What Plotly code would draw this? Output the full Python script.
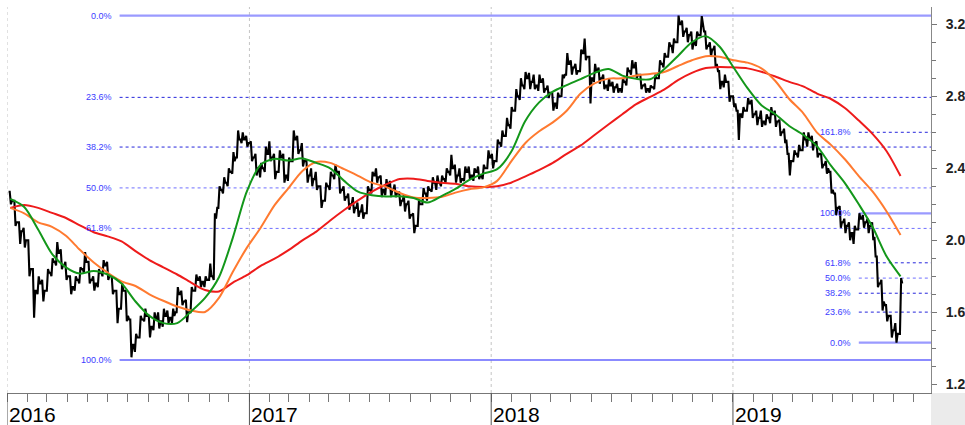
import plotly.graph_objects as go
import pandas as pd

# ---------------- data ----------------
first_week = "2016-01-06"   # weekly ranges (Wednesday of each week)

high = [
2.27,2.22,2.10,2.07,2.00,1.84,1.80,1.78,1.84,1.90,
1.99,1.95,1.88,1.80,1.80,1.85,1.935,1.88,1.80,1.84,
1.89,1.88,1.80,1.72,1.76,1.72,1.56,1.48,1.58,1.62,
1.58,1.60,1.60,1.62,1.61,1.62,1.74,1.72,1.67,1.74,
1.81,1.80,1.80,1.87,2.15,2.30,2.35,2.40,2.49,2.61,
2.60,2.58,2.55,2.48,2.43,2.52,2.55,2.48,2.50,2.48,
2.46,2.61,2.58,2.54,2.44,2.40,2.38,2.30,2.32,2.38,
2.42,2.38,2.30,2.26,2.24,2.21,2.20,2.30,2.38,2.40,
2.36,2.34,2.33,2.31,2.27,2.25,2.22,2.15,2.22,2.29,
2.30,2.35,2.36,2.36,2.40,2.475,2.42,2.40,2.41,2.41,
2.40,2.41,2.42,2.50,2.48,2.56,2.61,2.68,2.74,2.84,
2.90,2.935,2.93,2.92,2.92,2.90,2.86,2.82,2.82,2.92,
3.04,3.00,2.98,3.06,3.12,3.02,2.98,2.96,2.92,2.90,
2.88,2.87,2.90,2.96,3.00,2.99,2.92,2.87,2.86,2.92,
3.00,3.04,3.10,3.12,3.248,3.22,3.18,3.16,3.16,3.245,
3.16,3.10,3.08,2.94,2.92,2.88,2.80,2.72,2.74,2.79,
2.78,2.72,2.72,2.70,2.74,2.72,2.67,2.62,2.48,2.50,
2.53,2.60,2.60,2.58,2.55,2.48,2.44,2.38,2.26,2.19,
2.12,2.10,2.08,2.15,2.14,2.12,2.10,1.91,1.78,1.64,
1.58,1.54,1.79]

low = [
2.20,2.08,1.98,1.96,1.80,1.57,1.70,1.66,1.72,1.80,
1.86,1.84,1.78,1.70,1.72,1.76,1.82,1.76,1.72,1.74,
1.80,1.78,1.70,1.54,1.62,1.55,1.35,1.38,1.46,1.55,
1.46,1.50,1.51,1.52,1.54,1.54,1.60,1.64,1.545,1.60,
1.72,1.74,1.74,1.78,1.78,2.18,2.26,2.30,2.37,2.46,
2.54,2.52,2.44,2.36,2.35,2.38,2.44,2.34,2.38,2.32,
2.33,2.44,2.48,2.41,2.32,2.30,2.28,2.18,2.22,2.28,
2.34,2.26,2.22,2.17,2.15,2.13,2.12,2.15,2.26,2.32,
2.24,2.25,2.24,2.24,2.19,2.16,2.12,2.04,2.08,2.20,
2.22,2.27,2.28,2.30,2.32,2.36,2.32,2.32,2.33,2.34,
2.33,2.34,2.34,2.40,2.40,2.44,2.52,2.58,2.62,2.72,
2.78,2.84,2.84,2.84,2.83,2.82,2.79,2.72,2.73,2.80,
2.92,2.92,2.92,2.94,3.00,2.76,2.88,2.87,2.84,2.83,
2.82,2.82,2.82,2.86,2.92,2.90,2.84,2.82,2.82,2.84,
2.90,2.96,3.02,3.04,3.10,3.13,3.10,3.06,3.08,3.14,
3.06,3.02,2.96,2.84,2.85,2.77,2.74,2.557,2.68,2.72,
2.68,2.64,2.63,2.64,2.65,2.63,2.58,2.54,2.36,2.44,
2.46,2.50,2.52,2.50,2.46,2.40,2.37,2.26,2.14,2.07,
2.04,2.00,1.98,2.06,2.07,2.04,2.00,1.74,1.61,1.55,
1.46,1.431,1.48]

close = [
2.22,2.10,2.05,2.00,1.84,1.72,1.76,1.72,1.82,1.88,
1.93,1.86,1.80,1.74,1.78,1.84,1.88,1.78,1.76,1.82,
1.86,1.80,1.72,1.62,1.72,1.58,1.42,1.46,1.56,1.58,
1.52,1.56,1.55,1.58,1.57,1.58,1.70,1.66,1.60,1.72,
1.78,1.77,1.78,1.80,2.12,2.28,2.32,2.38,2.44,2.56,
2.56,2.54,2.46,2.40,2.40,2.48,2.46,2.38,2.46,2.36,
2.44,2.56,2.50,2.44,2.36,2.34,2.30,2.22,2.30,2.36,
2.38,2.28,2.24,2.20,2.18,2.16,2.15,2.28,2.36,2.35,
2.28,2.30,2.28,2.26,2.22,2.20,2.14,2.08,2.20,2.26,
2.28,2.32,2.32,2.34,2.38,2.40,2.36,2.34,2.38,2.36,
2.38,2.36,2.40,2.46,2.44,2.54,2.58,2.64,2.72,2.80,
2.86,2.90,2.88,2.86,2.88,2.84,2.82,2.76,2.80,2.90,
2.98,2.96,2.94,3.04,3.02,2.90,2.94,2.90,2.86,2.86,
2.85,2.84,2.88,2.94,2.96,2.92,2.86,2.84,2.85,2.90,
2.98,3.02,3.08,3.10,3.20,3.16,3.14,3.10,3.14,3.20,
3.08,3.06,2.98,2.88,2.88,2.80,2.76,2.70,2.72,2.76,
2.70,2.68,2.66,2.68,2.70,2.66,2.60,2.56,2.44,2.48,
2.50,2.56,2.56,2.54,2.48,2.42,2.40,2.28,2.18,2.10,
2.08,2.04,2.06,2.12,2.10,2.08,2.02,1.76,1.66,1.58,
1.50,1.48,1.76]

# moving averages, sampled every third week
ma_green = [
2.23,2.185,2.06,1.925,1.85,1.815,1.83,1.81,1.76,1.66,
1.58,1.54,1.54,1.605,1.68,1.795,2.015,2.27,2.42,2.452,
2.443,2.455,2.43,2.40,2.33,2.27,2.25,2.243,2.245,2.235,
2.21,2.245,2.285,2.335,2.37,2.395,2.49,2.66,2.765,2.826,
2.862,2.895,2.93,2.952,2.915,2.897,2.895,2.95,3.024,3.10,
3.134,3.075,2.96,2.845,2.75,2.70,2.635,2.586,2.522,2.415,
2.318,2.20,2.072,1.91,1.80]

ma_orange = [
2.18,2.15,2.10,2.075,2.025,1.947,1.877,1.82,1.772,1.746,
1.70,1.664,1.632,1.61,1.602,1.68,1.825,1.958,2.07,2.195,
2.29,2.385,2.435,2.43,2.395,2.358,2.32,2.297,2.263,2.238,
2.235,2.24,2.265,2.284,2.294,2.33,2.437,2.538,2.604,2.655,
2.72,2.815,2.872,2.898,2.90,2.916,2.924,2.935,2.968,3.00,
3.023,3.019,3.00,2.987,2.955,2.885,2.785,2.707,2.598,2.53,
2.45,2.357,2.27,2.16,2.03]

ma_red = [
2.18,2.196,2.18,2.152,2.124,2.083,2.045,2.022,1.994,1.94,
1.89,1.85,1.81,1.765,1.724,1.716,1.765,1.806,1.858,1.898,
1.945,2.00,2.048,2.11,2.168,2.222,2.27,2.31,2.34,2.342,
2.33,2.32,2.314,2.30,2.296,2.30,2.32,2.354,2.39,2.43,
2.48,2.527,2.585,2.643,2.70,2.756,2.797,2.837,2.89,2.93,
2.957,2.963,2.96,2.955,2.936,2.91,2.88,2.855,2.815,2.785,
2.735,2.665,2.59,2.495,2.357]

# Fibonacci retracement sets
fib1_start = "2016-06-19"
fib1_labels = ["0.0%", "23.6%", "38.2%", "50.0%", "61.8%", "100.0%"]
fib1_values = [3.248, 2.794, 2.518, 2.291, 2.066, 1.335]
fib2_start = "2019-07-10"
fib2_labels = ["161.8%", "100.0%", "61.8%", "50.0%", "38.2%", "23.6%", "0.0%"]
fib2_values = [2.600, 2.150, 1.875, 1.790, 1.706, 1.601, 1.431]

year_labels = ["2016", "2017", "2018", "2019"]
x_range = ["2016-01-01", "2019-10-27"]
y_range = [1.1517, 3.296]

# ---------------- figure ----------------
weeks = pd.date_range(first_week, periods=len(close), freq="7D")
opens = [high[0]] + [min(max(c, l), h) for c, l, h in zip(close[:-1], low[1:], high[1:])]
ma_dates = weeks[::3]

# each weekly range drawn as a tight open -> extreme -> extreme -> close stroke,
# which renders like the dense daily bars of the original
bar_x, bar_y = [], []
for w, o, h, l, c in zip(weeks, opens, high, low, close):
    first, second = (l, h) if c >= o else (h, l)
    for off, v in ((-2.6, o), (-0.9, first), (0.9, second), (2.6, c)):
        bar_x.append(w + pd.Timedelta(days=off))
        bar_y.append(v)

FONT = "Liberation Sans, Arial, sans-serif"
fig = go.Figure()

fig.add_trace(go.Scatter(x=bar_x, y=bar_y, mode="lines",
                         line=dict(color="black", width=2.1), hoverinfo="skip"))

for vals, col in [(ma_red, "#ee1b1b"), (ma_orange, "#ff7a30"), (ma_green, "#13971a")]:
    fig.add_trace(go.Scatter(x=ma_dates, y=vals, mode="lines",
                             line=dict(color=col, width=2, shape="spline", smoothing=0.8),
                             hoverinfo="skip"))

shapes = []
annotations = []

def fib_style(label, set_no):
    if label in ("0.0%", "100.0%"):
        if set_no == 1 and label == "100.0%":
            return dict(color="#6565ff", width=1.6, dash="solid")
        return dict(color="#9a9aff", width=2.2, dash="solid")
    if label == "50.0%" or (set_no == 1 and label == "61.8%"):
        return dict(color="#6f6fff", width=1, dash="3px,3px")
    return dict(color="#2626dc", width=1, dash="3px,3px")

for set_no, start, labels, values in [(1, fib1_start, fib1_labels, fib1_values),
                                       (2, fib2_start, fib2_labels, fib2_values)]:
    for lab, v in zip(labels, values):
        shapes.append(dict(type="line", xref="x", yref="y", x0=start, x1=x_range[1],
                           y0=v, y1=v, line=fib_style(lab, set_no), layer="below"))
        annotations.append(dict(x=start, y=v, xref="x", yref="y", text=lab,
                                showarrow=False, xanchor="right", yanchor="middle",
                                xshift=-6, font=dict(family=FONT, size=9, color="#3b3bff")))

# year gridlines, long year ticks and labels
for yl in year_labels:
    d = f"{yl}-01-01"
    shapes.append(dict(type="line", xref="x", yref="paper", x0=d, x1=d, y0=0, y1=1,
                       line=dict(color="#c4c4c4", width=1, dash="3px,3px"), layer="below"))
    shapes.append(dict(type="line", xref="x", yref="paper", x0=d, x1=d, y0=0, y1=-0.09,
                       line=dict(color="#555555", width=1)))
    annotations.append(dict(x=d, y=0, xref="x", yref="paper", text=yl, showarrow=False,
                            xanchor="left", yanchor="middle", xshift=0, yshift=-21,
                            font=dict(family=FONT, size=21, color="black")))

# grey corner box
shapes.append(dict(type="rect", xref="paper", yref="paper", x0=1.0, x1=1.1, y0=-0.1, y1=0,
                   fillcolor="#ebebeb", line=dict(width=0), layer="below"))

fig.update_layout(
    width=965, height=425,
    margin=dict(l=7, r=34, t=7, b=32),
    paper_bgcolor="white", plot_bgcolor="white",
    showlegend=False, hovermode=False,
    shapes=shapes, annotations=annotations,
    font=dict(family=FONT),
    xaxis=dict(type="date", range=x_range, showgrid=False, zeroline=False,
               automargin=False,
               showline=True, linecolor="#777777", linewidth=1,
               ticks="outside", ticklen=8, tickcolor="#777777",
               tick0="2016-01-01", dtick="M1", showticklabels=False),
    yaxis=dict(side="right", range=y_range, showgrid=False, zeroline=False,
               automargin=False,
               showline=True, linecolor="#888888", linewidth=1,
               tickmode="linear", tick0=1.2, dtick=0.4, tickformat=".1f",
               ticks="outside", ticklen=5, tickcolor="#777777",
               ticklabelstandoff=6,
               tickfont=dict(family=FONT, size=14, color="#222222", weight="bold"),
               minor=dict(dtick=0.1, tick0=1.2, ticks="outside", ticklen=4,
                          tickcolor="#777777")),
)

fig.write_html("out.html", config={"displayModeBar": False},
               post_script="document.body.style.margin='0';")
